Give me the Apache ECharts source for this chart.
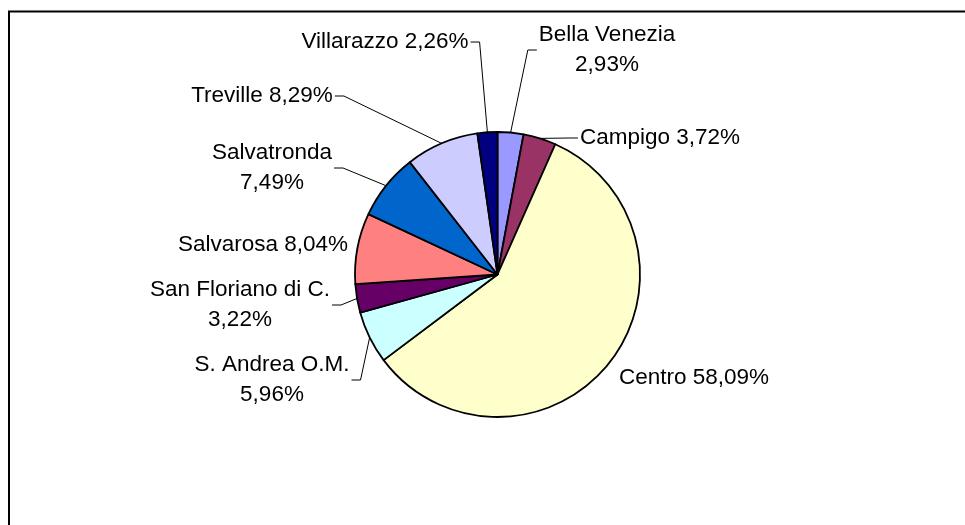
<!DOCTYPE html>
<html>
<head>
<meta charset="utf-8">
<script src="https://cdn.jsdelivr.net/npm/echarts@6/dist/echarts.min.js"></script>
<style>
  html, body { margin: 0; padding: 0; background: #fff; }
  #chart { width: 965px; height: 525px; }
</style>
</head>
<body>
<div id="chart"></div>
<script>
// quartieri, in senso orario partendo dalle 12
const zones = ['Bella Venezia', 'Campigo', 'Centro', 'S. Andrea O.M.', 'San Floriano di C.', 'Salvarosa', 'Salvatronda', 'Treville', 'Villarazzo']
const shares = [2.93, 3.72, 58.09, 5.96, 3.22, 8.04, 7.49, 8.29, 2.26]
const colors = ['#9999FF', '#993366', '#FFFFCC', '#CCFFFF', '#660066', '#FF8080', '#0066CC', '#CCCCFF', '#000080']

// label placement (text centre), which labels wrap and which have no leader line
const labelAt = {
  'Bella Venezia': [607, 50],
  'Campigo': [660, 138],
  'Centro': [694, 378],
  'S. Andrea O.M.': [272, 380],
  'San Floriano di C.': [240, 305],
  'Salvarosa': [263, 245],
  'Salvatronda': [272, 168],
  'Treville': [262, 96],
  'Villarazzo': [385, 42]
}
const wrapped = ['Bella Venezia', 'Salvatronda', 'San Floriano di C.', 'S. Andrea O.M.']
const noLine = ['Centro', 'Salvarosa']

const chart = echarts.init(document.getElementById('chart'))

const pct = v => v.toFixed(2).replace('.', ',') + '%'

chart.setOption({
  animation: false,
  graphic: [{
    type: 'rect',
    shape: { x: 9, y: 11.5, width: 1000, height: 600 },
    style: { fill: 'none', stroke: '#000', lineWidth: 2 },
    silent: true
  }],
  series: [{
    type: 'pie',
    center: [497.5, 274.5],
    radius: 142.5,
    startAngle: 90,
    clockwise: true,
    avoidLabelOverlap: false,
    itemStyle: {
      borderColor: '#000',
      borderWidth: 1.8
    },
    label: {
      show: true,
      position: 'outside',
      color: '#000',
      fontFamily: 'Liberation Sans, Arial, sans-serif',
      fontSize: 22.5,
      lineHeight: 30,
      align: 'center',
      formatter: p => wrapped.indexOf(p.name) >= 0
        ? p.name + '\n' + pct(p.value)
        : p.name + ' ' + pct(p.value)
    },
    labelLine: {
      show: true,
      length: 10,
      length2: 10,
      lineStyle: { color: '#000', width: 1 }
    },
    emphasis: { disabled: true },
    labelLayout(params) {
      const name = zones[params.dataIndex]
      const pos = labelAt[name]
      const out = { x: pos[0], y: pos[1], align: 'center', verticalAlign: 'middle' }
      if (noLine.indexOf(name) < 0 && params.labelLinePoints) {
        const p0 = params.labelLinePoints[0]
        const side = pos[0] > p0[0] ? -1 : 1
        const edge = pos[0] + side * (params.labelRect.width / 2 + 2)
        out.labelLinePoints = [p0, [edge + side * 9, pos[1]], [edge, pos[1]]]
      }
      return out
    },
    data: zones.map((z, i) => ({
      name: z,
      value: shares[i],
      itemStyle: { color: colors[i] },
      labelLine: { show: noLine.indexOf(z) < 0 }
    }))
  }]
})
</script>
</body>
</html>
